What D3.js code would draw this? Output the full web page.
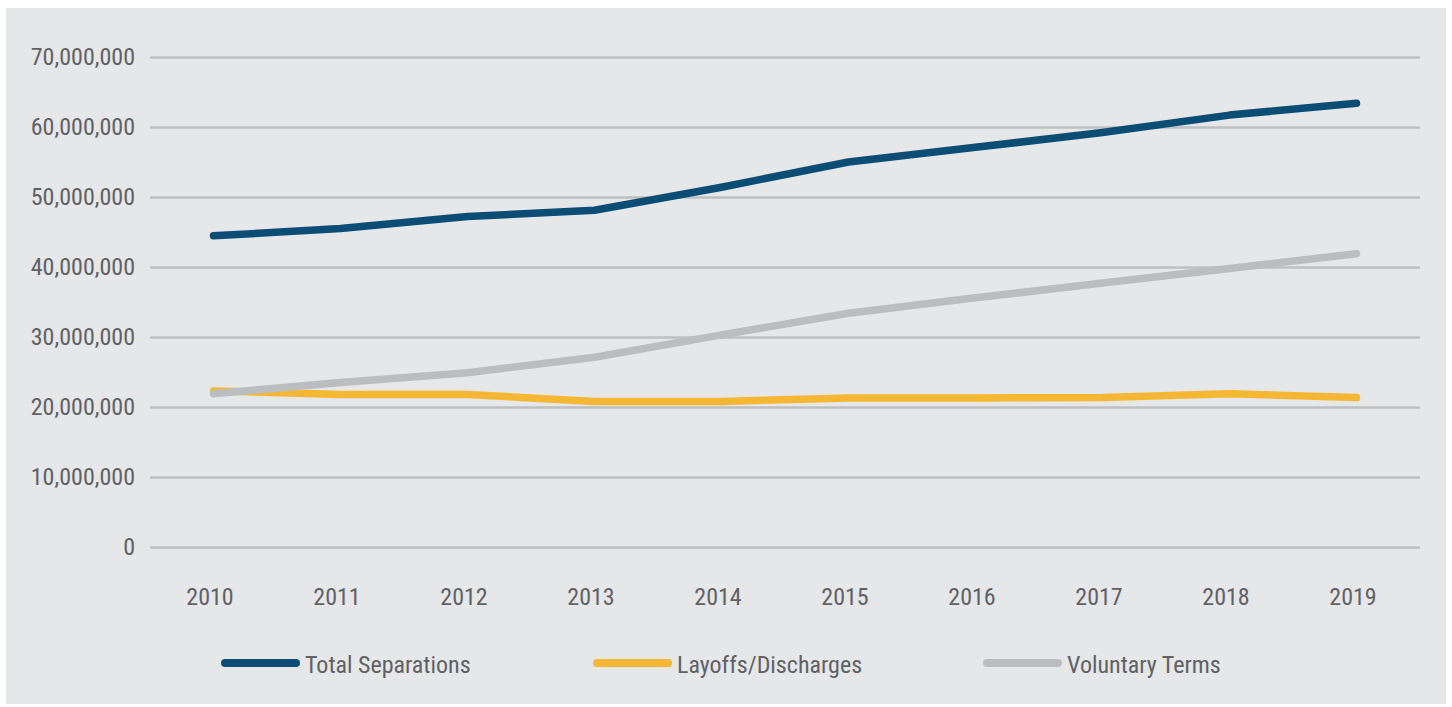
<!DOCTYPE html>
<html>
<head>
<meta charset="utf-8">
<script src="https://cdn.jsdelivr.net/npm/d3@7"></script>
<style>
  html, body { margin: 0; padding: 0; background: #ffffff; }
  svg text { font-family: Roboto, "Noto Sans", sans-serif; fill: #606164; font-stretch: condensed; }
</style>
</head>
<body>
<svg id="plot"></svg>
<script>
// chart data
const years = ["2010", "2011", "2012", "2013", "2014", "2015", "2016", "2017", "2018", "2019"];
const totalSeparations = [44.45, 45.5, 47.2, 48.1, 51.4, 55.0, 57.1, 59.2, 61.7, 63.4].map(v => v * 1e6);
const layoffsDischarges = [22.3, 21.8, 21.8, 20.8, 20.8, 21.3, 21.3, 21.35, 21.9, 21.35].map(v => v * 1e6);
const voluntaryTerms = [21.9, 23.5, 24.9, 27.1, 30.3, 33.4, 35.6, 37.7, 39.8, 41.9].map(v => v * 1e6);
const yTicks = [0, 10e6, 20e6, 30e6, 40e6, 50e6, 60e6, 70e6];

const seriesNames = ["Total Separations", "Layoffs/Discharges", "Voluntary Terms"];
const seriesColors = ["#0b4d74", "#f6b834", "#bcbdc0"];

const series = [totalSeparations, layoffsDischarges, voluntaryTerms].map((vals, i) => ({
    name: seriesNames[i],
    color: seriesColors[i],
    values: vals
}));

// init setting
const svg = d3.select("#plot")
    .attr("width", 1452)
    .attr("height", 707);

// panel background
svg.append("rect")
    .attr("x", 6)
    .attr("y", 8)
    .attr("width", 1440)
    .attr("height", 696)
    .attr("fill", "#e6e7e9");

const margin = { top: 57, right: 32, bottom: 160, left: 150 };
const xScale = d3.scalePoint()
    .domain(years)
    .range([margin.left, 1452 - margin.right])
    .padding(0.5);
const yScale = d3.scaleLinear()
    .domain([0, 70e6])
    .range([547, margin.top]);

// gridlines + y labels
const yAxis = d3.axisLeft(yScale)
    .tickValues(yTicks)
    .tickSize(-(xScale.range()[1] - xScale.range()[0]))
    .tickPadding(15)
    .tickFormat(d3.format(","));

const yG = svg.append("g")
    .attr("transform", `translate(${margin.left}, 0)`)
    .call(yAxis);
yG.select(".domain").remove();
yG.selectAll(".tick line")
    .attr("stroke", "#bebfc1")
    .attr("stroke-width", 2.5);
yG.selectAll(".tick text")
    .style("font-size", "24px")
    .attr("fill", "#606164");

// x labels (sit a few px left of the points, like the original)
const xAxis = d3.axisBottom(xScale).tickSize(0).tickPadding(0);
const xG = svg.append("g")
    .attr("transform", "translate(-4, 605)")
    .call(xAxis);
xG.select(".domain").remove();
xG.selectAll(".tick text")
    .attr("dy", 0)
    .style("font-size", "24px")
    .attr("fill", "#606164");

// lines
const line = d3.line()
    .x((d, i) => xScale(years[i]))
    .y(d => yScale(d));

svg.selectAll(".series")
    .data(series)
    .enter().append("path")
    .attr("class", "series")
    .attr("d", d => line(d.values))
    .attr("fill", "none")
    .attr("stroke", d => d.color)
    .attr("stroke-width", 7.5)
    .attr("stroke-linecap", "round")
    .attr("stroke-linejoin", "round");

// legend
const legendX = [225, 597, 987];
const legend = svg.selectAll(".legend")
    .data(series)
    .enter().append("g")
    .attr("class", "legend")
    .attr("transform", (d, i) => `translate(${legendX[i]}, 663)`);

legend.append("line")
    .attr("x1", 0)
    .attr("x2", 71)
    .attr("stroke", d => d.color)
    .attr("stroke-width", 8)
    .attr("stroke-linecap", "round");

legend.append("text")
    .attr("x", 80)
    .attr("y", 10)
    .style("font-size", "24px")
    .text(d => d.name);
</script>
</body>
</html>
